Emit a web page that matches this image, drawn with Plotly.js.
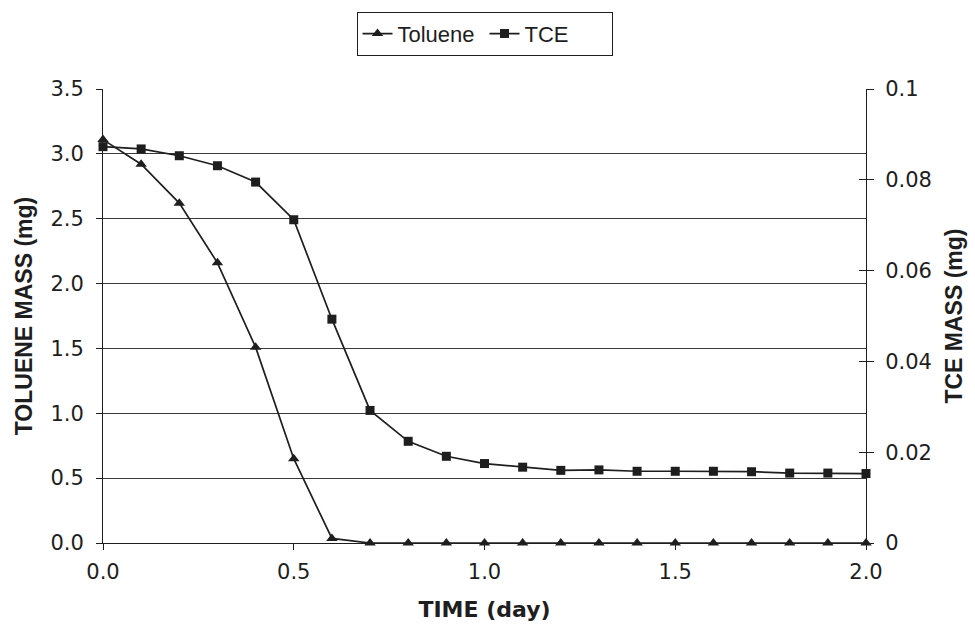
<!DOCTYPE html>
<html>
<head>
<meta charset="utf-8">
<script src="https://cdn.plot.ly/plotly-3.0.1.min.js"></script>
<style>html,body{margin:0;padding:0;background:#fff;}#chart{width:975px;height:636px;}</style>
</head>
<body>
<div id="chart"></div>
<script>
const timeDays = [0.0,0.1,0.2,0.3,0.4,0.5,0.6,0.7,0.8,0.9,1.0,1.1,1.2,1.3,1.4,1.5,1.6,1.7,1.8,1.9,2.0];
const tolueneMass = [3.11,2.92,2.62,2.16,1.51,0.65,0.035,0.0,0.0,0.0,0.0,0.0,0.0,0.0,0.0,0.0,0.0,0.0,0.0,0.0,0.0];
const tceMass = [0.0873,0.0868,0.0853,0.0831,0.0795,0.0712,0.0493,0.0292,0.0224,0.0191,0.0175,0.0167,0.0160,0.0161,0.0158,0.0158,0.0158,0.0157,0.0154,0.0154,0.0153];

const sans = 'Liberation Sans, Arial, sans-serif';
const wide = 'DejaVu Sans, Liberation Sans, sans-serif';
const ink = '#1e1e1e';
const traces = [
  {x: timeDays, y: tolueneMass, name: 'Toluene', type: 'scatter', mode: 'lines+markers',
   line: {color: ink, width: 1.7}, marker: {symbol: 'triangle-up', size: 10, color: ink},
   cliponaxis: false, yaxis: 'y'},
  {x: timeDays, y: tceMass, name: 'TCE', type: 'scatter', mode: 'lines+markers',
   line: {color: ink, width: 1.7}, marker: {symbol: 'square', size: 9, color: ink},
   cliponaxis: false, yaxis: 'y2'}
];
const layout = {
  width: 975, height: 636,
  margin: {l: 103, r: 109, t: 86, b: 93},
  paper_bgcolor: '#fff', plot_bgcolor: '#fff',
  font: {family: wide, color: ink, size: 21},
  showlegend: true,
  legend: {orientation: 'h', x: 0.5, xanchor: 'center', y: 1.17, yanchor: 'top',
    bordercolor: ink, borderwidth: 1, font: {size: 22, family: sans, color: ink},
    entrywidth: 82, entrywidthmode: 'pixels', tracegroupgap: 0},
  xaxis: {range: [0, 2], dtick: 0.5, tick0: 0, tickformat: '.1f', showgrid: false, zeroline: false,
    showline: true, linecolor: ink, linewidth: 1, ticks: 'outside', ticklen: 6, tickcolor: ink,
    ticklabelstandoff: 4, tickfont: {family: wide, size: 21, color: ink},
    title: {text: '<b>TIME (day)</b>', font: {size: 22, family: wide, color: ink}, standoff: 18}},
  yaxis: {range: [0, 3.5], dtick: 0.5, tick0: 0, tickformat: '.1f', showgrid: true, gridcolor: '#3a3a3a', gridwidth: 1,
    zeroline: false, showline: true, linecolor: ink, linewidth: 1, ticks: 'outside', ticklen: 6, tickcolor: ink,
    ticklabelstandoff: 8, tickfont: {family: wide, size: 21, color: ink},
    title: {text: '<b>TOLUENE MASS (mg)</b>', font: {size: 23, family: sans, color: ink}, standoff: 11}},
  yaxis2: {range: [0, 0.1], dtick: 0.02, tick0: 0, overlaying: 'y', side: 'right', showgrid: false, zeroline: false,
    showline: true, linecolor: ink, linewidth: 1, ticks: 'outside', ticklen: 7, tickcolor: ink,
    ticklabelstandoff: 7, tickfont: {family: wide, size: 21, color: ink},
    title: {text: '<b>TCE MASS (mg)</b>', font: {size: 23, family: sans, color: ink}, standoff: 14}},
  yaxis3: {range: [0, 0.1], dtick: 0.02, tick0: 0, overlaying: 'y', side: 'right', showgrid: false, zeroline: false,
    showline: false, ticks: 'inside', ticklen: 7, tickcolor: ink, showticklabels: false}
};
traces.push({x: [null], y: [null], yaxis: 'y3', showlegend: false, hoverinfo: 'skip', type: 'scatter', mode: 'lines'});
Plotly.newPlot('chart', traces, layout, {displayModeBar: false, staticPlot: true});
</script>
</body>
</html>
